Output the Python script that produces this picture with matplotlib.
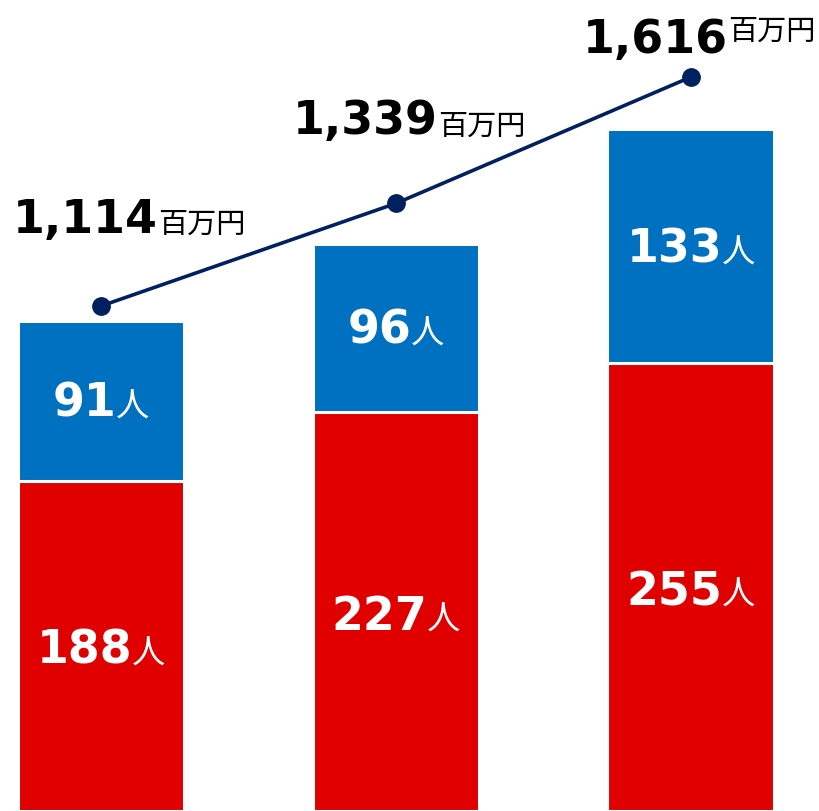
import matplotlib
matplotlib.use("Agg")
import matplotlib.pyplot as plt
from matplotlib.transforms import offset_copy

# ---- data ----
categories = ["A", "B", "C"]
red_values = [188, 227, 255]
blue_values = [91, 96, 133]
line_values = [1114, 1339, 1616]
people_unit = "人"
money_unit = "百万円"

RED = "#E00000"
BLUE = "#0070C0"
NAVY = "#002060"
DIGIT_FONT = "DejaVu Sans"
CJK_FONT = ["Noto Sans CJK JP", "DejaVu Sans"]

fig = plt.figure(figsize=(8.19, 8.12), dpi=100)
ax = fig.add_axes([0, 0, 1, 1])
ax2 = ax.twinx()
x = list(range(len(categories)))

bw = 0.566
ax.bar(x, red_values, width=bw, color=RED, edgecolor="white", linewidth=2.2, zorder=2)
ax.bar(x, blue_values, bottom=red_values, width=bw, color=BLUE, edgecolor="white",
       linewidth=2.2, zorder=2)
ax.set_xlim(-0.3424, 2.434)
ax.set_ylim(0, 462.2)

ax2.plot(x, line_values, color=NAVY, linewidth=2.6, marker="o", markersize=12.5,
         zorder=5, solid_capstyle="round")
ax2.set_ylim(7, 1787)

for a in (ax, ax2):
    a.set_axis_off()

renderer = fig.canvas.get_renderer()


def pair(axis, xv, yv, big, small, bsize, ssize, color, dx, dy, center, sdy=0, gap=1):
    t1 = axis.text(0, 0, big, fontsize=bsize, fontweight="bold", family=DIGIT_FONT,
                   color=color, ha="left", va="baseline", zorder=6)
    t2 = axis.text(0, 0, small, fontsize=ssize, family=CJK_FONT, color=color,
                   ha="left", va="baseline", zorder=6)
    w1 = t1.get_window_extent(renderer).width
    w2 = t2.get_window_extent(renderer).width
    start = dx - (w1 + gap + w2) / 2 if center else dx
    t1.set_position((xv, yv))
    t2.set_position((xv, yv))
    t1.set_transform(offset_copy(axis.transData, fig=fig, x=start, y=dy, units="dots"))
    t2.set_transform(offset_copy(axis.transData, fig=fig, x=start + w1 + gap,
                                 y=dy + sdy, units="dots"))


for i in x:
    r = red_values[i]
    b = blue_values[i]
    pair(ax, i, r / 2, str(r), people_unit, 33, 24, "white", 0, -17, True, gap=0)
    pair(ax, i, r + b / 2, str(b), people_unit, 33, 24, "white", 0, -15, True, gap=0)

line_offsets = [(-88, 74, 0), (-103, 70, 0), (-108, 25, 13)]
for i, v in enumerate(line_values):
    dx, dy, sdy = line_offsets[i]
    pair(ax2, i, v, f"{v:,}", money_unit, 33, 21, "black", dx, dy, False, sdy=sdy, gap=0)

fig.savefig("out.png", dpi=100)
